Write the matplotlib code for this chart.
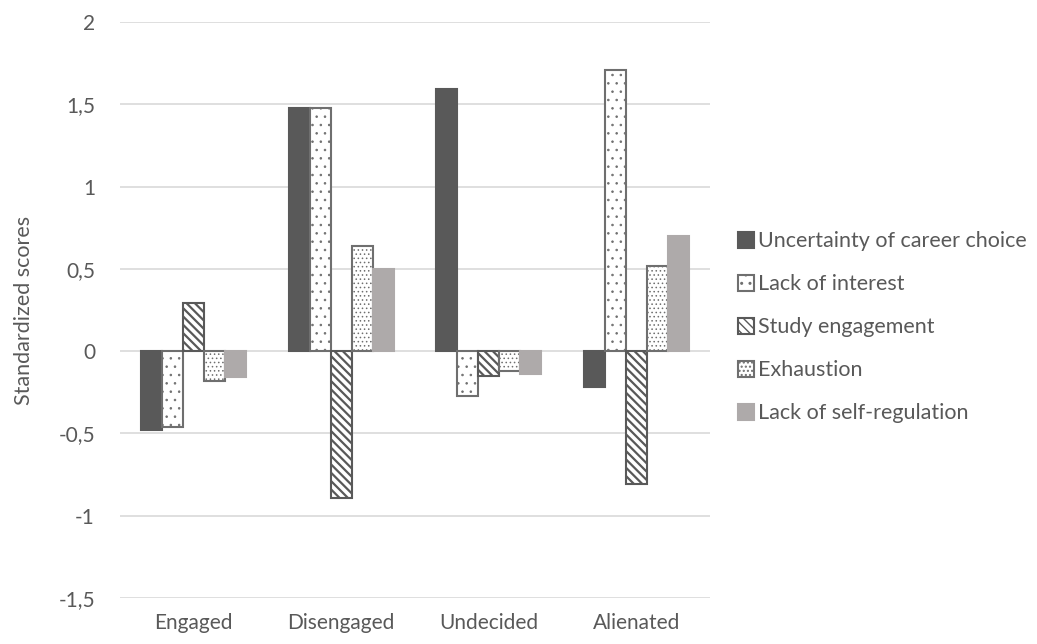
import matplotlib.pyplot as plt
import numpy as np

plt.rcParams['font.family'] = ['Lato', 'DejaVu Sans']

groups = ["Engaged", "Disengaged", "Undecided", "Alienated"]
series = ["Uncertainty of career choice", "Lack of interest", "Study engagement",
          "Exhaustion", "Lack of self-regulation"]

uncertainty = [-0.48, 1.48, 1.59, -0.22]
lack_interest = [-0.46, 1.48, -0.27, 1.71]
study_engagement = [0.29, -0.89, -0.15, -0.81]
exhaustion = [-0.18, 0.64, -0.12, 0.52]
lack_selfreg = [-0.16, 0.50, -0.14, 0.70]

yticks = [2, 1.5, 1, 0.5, 0, -0.5, -1, -1.5]
ytick_labels = ["2", "1,5", "1", "0,5", "0", "-0,5", "-1", "-1,5"]

values = [uncertainty, lack_interest, study_engagement, exhaustion, lack_selfreg]
# face, edge, hatch, hatch line width
styles = [
    ("#595959", "#595959", None, 1.0),
    ("white", "#6f6f6f", "..", 0.6),
    ("white", "#595959", "\\\\\\\\", 1.6),
    ("white", "#6f6f6f", "....", 0.6),
    ("#aeaaaa", "#aeaaaa", None, 1.0),
]

fig = plt.figure(figsize=(10.37, 6.44), dpi=100)
ax = fig.add_axes([120 / 1037, 1 - 598 / 644, (710 - 120) / 1037, (598 - 22) / 644])

x = np.arange(len(groups))
w = 0.142
for i, (vals, (fc, ec, hatch, hlw)) in enumerate(zip(values, styles)):
    with plt.rc_context({'hatch.linewidth': hlw}):
        ax.bar(x + (i - 2) * w, vals, w, label=series[i], facecolor=fc,
               edgecolor=ec, hatch=hatch, linewidth=1.5, zorder=3)

ax.set_ylim(-1.5, 2)
ax.set_xlim(-0.5, 3.5)
ax.set_yticks(yticks)
ax.set_yticklabels(ytick_labels)
ax.set_xticks(x)
ax.set_xticklabels(groups)
ax.tick_params(axis="y", length=0, labelsize=15, colors="#595959", pad=18)
ax.tick_params(axis="x", length=0, labelsize=15, colors="#595959", pad=11)
ax.grid(axis="y", color="#d9d9d9", linewidth=1.2, zorder=0)
for s in ax.spines.values():
    s.set_visible(False)
ax.set_ylabel("Standardized scores", fontsize=15.5, color="#595959")
ax.yaxis.set_label_coords(-86 / 590, 0.5)

leg = ax.legend(loc="center left", bbox_to_anchor=(1.014, 0.47), frameon=False,
                fontsize=15.5, handlelength=0.75, handleheight=0.75, handletextpad=0.2,
                labelspacing=1.07, labelcolor="#595959")

fig.savefig("out.png", dpi=100)
